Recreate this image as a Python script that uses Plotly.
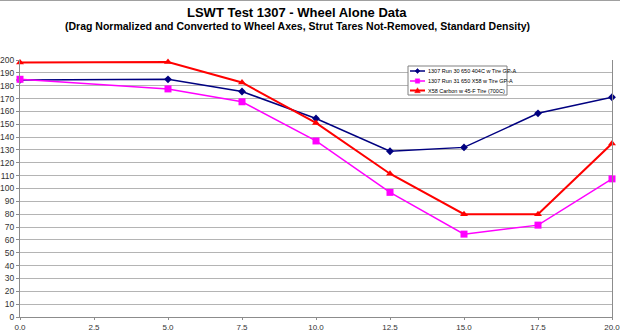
import plotly.graph_objects as go

x_vals = [0.0, 5.0, 7.5, 10.0, 12.5, 15.0, 17.5, 20.0]
run30 = [184.5, 185.0, 175.5, 154.5, 129.0, 132.0, 158.5, 171.0]
run31 = [185.0, 177.5, 167.5, 137.0, 97.0, 64.5, 71.5, 107.5]
x58c = [198.0, 198.5, 182.5, 151.0, 111.5, 80.0, 80.0, 135.0]

names = ["1307 Run 30 650 404C w Tire GP-A",
         "1307 Run 31 650 X58 w Tire GP-A",
         "X58 Carbon w 45-F Tire (700C)"]
colors = ["#000080", "#FF00FF", "#FF0000"]
symbols = ["diamond", "square", "triangle-up"]
msizes = [6, 7, 7]
lwidths = [1.5, 1.5, 2]
series = [run30, run31, x58c]

W, H = 620, 331
ML, MR, MT, MB = 20, 8, 60, 14
PW, PH = W - ML - MR, H - MT - MB

def px(xp):
    return (xp - ML) / PW

def py(yp):
    return (H - MB - yp) / PH

fig = go.Figure()
for name, ys, c, s, ms, lw in zip(names, series, colors, symbols, msizes, lwidths):
    fig.add_trace(go.Scatter(x=x_vals, y=ys, mode="lines+markers", name=name,
                             line=dict(color=c, width=lw),
                             marker=dict(symbol=s, size=ms, color=c),
                             showlegend=False, cliponaxis=False))

shapes = []
annotations = []
# top border of chart area
shapes.append(dict(type="line", xref="paper", yref="paper",
                   x0=px(0), x1=px(W), y0=py(0.5), y1=py(0.5),
                   line=dict(color="#a0a0a0", width=1)))
# custom legend box
lx0, lx1, ly0, ly1 = 408, 507, 66, 95
shapes.append(dict(type="rect", xref="paper", yref="paper",
                   x0=px(lx0), x1=px(lx1), y0=py(ly0), y1=py(ly1),
                   line=dict(color="#808080", width=1), fillcolor="white", layer="above"))
rows = [71, 81, 90.5]
for i, (name, c, s) in enumerate(zip(names, colors, symbols)):
    yr = rows[i]
    shapes.append(dict(type="line", xref="paper", yref="paper", layer="above",
                       x0=px(410), x1=px(425), y0=py(yr), y1=py(yr),
                       line=dict(color=c, width=lwidths[i])))
    cx = 417.5
    if s == "diamond":
        path = f"M {px(cx-2.5)},{py(yr)} L {px(cx)},{py(yr-2.5)} L {px(cx+2.5)},{py(yr)} L {px(cx)},{py(yr+2.5)} Z"
    elif s == "square":
        path = f"M {px(cx-2.2)},{py(yr-2.2)} L {px(cx+2.2)},{py(yr-2.2)} L {px(cx+2.2)},{py(yr+2.2)} L {px(cx-2.2)},{py(yr+2.2)} Z"
    else:
        path = f"M {px(cx-2.8)},{py(yr+2.2)} L {px(cx+2.8)},{py(yr+2.2)} L {px(cx)},{py(yr-2.8)} Z"
    shapes.append(dict(type="path", xref="paper", yref="paper", layer="above",
                       path=path, fillcolor=c, line=dict(color=c, width=0.5)))
    annotations.append(dict(xref="paper", yref="paper", x=px(426), y=py(yr),
                            xanchor="left", yanchor="middle", showarrow=False,
                            text=name, font=dict(size=5.5, color="#000000")))

annotations.append(dict(xref="paper", yref="paper", x=px(297), y=py(12.5),
                        xanchor="center", yanchor="middle", showarrow=False,
                        text="<b>LSWT Test 1307 - Wheel Alone Data</b>",
                        font=dict(size=13, color="#000000")))
annotations.append(dict(xref="paper", yref="paper", x=px(297), y=py(26),
                        xanchor="center", yanchor="middle", showarrow=False,
                        text="<b>(Drag Normalized and Converted to Wheel Axes, Strut Tares Not-Removed, Standard Density)</b>",
                        font=dict(size=10.5, color="#000000")))

fig.update_layout(
    width=W, height=H,
    margin=dict(l=ML, r=MR, t=MT, b=MB, pad=0, autoexpand=False),
    paper_bgcolor="white", plot_bgcolor="white",
    font=dict(family="Liberation Sans, Arial, sans-serif", color="#333333"),
    shapes=shapes, annotations=annotations,
    xaxis=dict(range=[0, 20], tick0=0, dtick=2.5, tickformat=".1f", automargin=False,
               ticklabeloverflow="allow",
               showgrid=False, zeroline=False, showline=True, linecolor="#8c8c8c",
               linewidth=1, mirror=False, ticks="outside", ticklen=2, tickcolor="#8c8c8c",
               tickfont=dict(size=8, color="#333333")),
    yaxis=dict(range=[0, 200], tick0=0, dtick=10, automargin=False,
               ticklabeloverflow="allow",
               showgrid=True, gridcolor="#b4b4b4", gridwidth=1.3, zeroline=False,
               showline=True, linecolor="#8c8c8c", linewidth=1, mirror=True,
               ticks="outside", ticklen=3, tickcolor="#8c8c8c",
               tickfont=dict(size=8.5, color="#333333")),
)

fig.write_html("out.html")
